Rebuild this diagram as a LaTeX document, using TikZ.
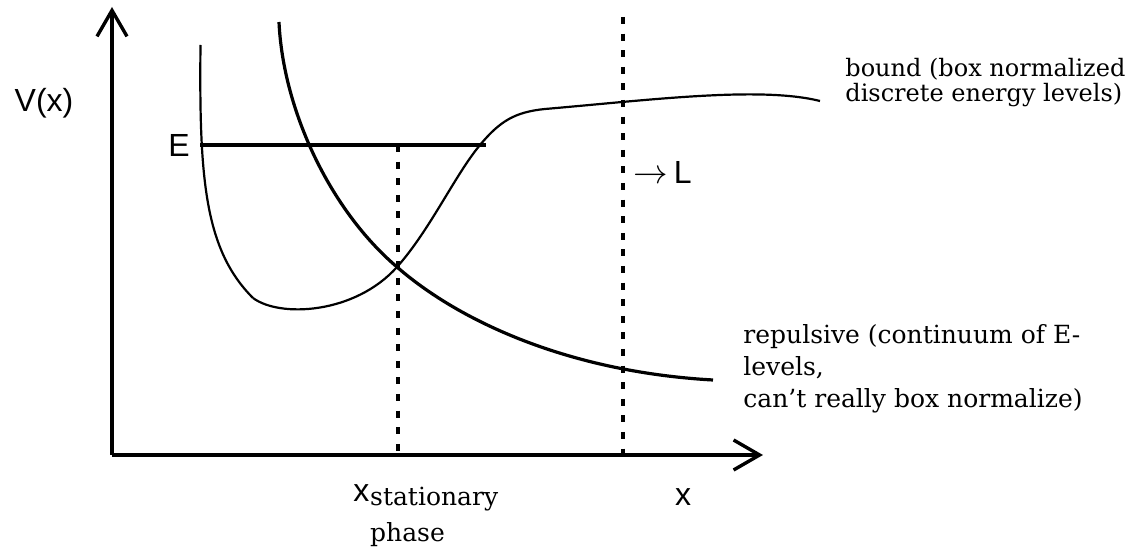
\documentclass[tikz,border=0pt]{standalone}
\usepackage{fontspec}
\setmainfont{DejaVu Serif}
\newfontfamily\sanslabelfont{Liberation Sans}
\usetikzlibrary{arrows.meta,positioning}
\tikzset{
  potaxis/.style={line width=1.7pt, -{Straight Barb[length=13pt,width=15pt,line width=1.7pt]}},
  potrepul/.style={line width=1.6pt},
  potbound/.style={line width=1.1pt},
  potlevel/.style={line width=1.7pt},
  potdash/.style={line width=2pt, dash pattern=on 3.5pt off 4.8pt},
  sanslabel/.style={inner sep=0pt, font=\sanslabelfont\fontsize{16}{19}\selectfont},
  potnote/.style={inner sep=0pt, align=left, font=\rmfamily\fontsize{12.5}{#1}\selectfont},
  potnote/.default=16pt
}

\begin{document}
\begin{tikzpicture}[x=0.5pt, y=-0.5pt]
\useasboundingbox (0,0) rectangle (1132,550);
% axes
\coordinate (origin) at (112,455);
\coordinate (ytip) at (112,7);
\coordinate (xtip) at (763,455);
\draw[potaxis] (origin) -- (ytip);
\draw[potaxis] (origin) -- (xtip);
% dashed markers
\coordinate (statE) at (398,145);
\coordinate (statbase) at (398,455);
\coordinate (boxtop) at (623,17);
\coordinate (boxbase) at (623,455);
\draw[potdash] (statE) -- (statbase);
\draw[potdash] (boxtop) -- (boxbase);
% energy level
\coordinate (Eleft) at (200,145);
\coordinate (Eright) at (486,145);
\draw[potlevel] (Eleft) -- (Eright);
% bound potential
\coordinate (wallcorner) at (253,298);
\coordinate (cross) at (397,267);
\draw[potbound] (200.5,45) .. controls (199,180) and (205,250) .. (wallcorner);
\draw[potbound] (wallcorner) .. controls (280,318) and (355,314) .. (cross)
  .. controls (430,230) and (455,175) .. (480,145)
  .. controls (500,121) and (515,112) .. (545,109)
  .. controls (650,100) and (760,86) .. (820,101);
% repulsive potential
\draw[potrepul] (279,22) .. controls (283,110) and (330,210) .. (cross)
  .. controls (460,322) and (570,372) .. (713,380);
% labels
\node[sanslabel] (Vlab) at (44,103) {V(x)};
\node[sanslabel, left=5pt of Eleft] (Elab) {E};
\node[sanslabel, anchor=west] (Llab) at (633,172) {$\rightarrow$\hspace{3pt}L};
\node[sanslabel] (xlab) at (683,497) {x};
\node[sanslabel, anchor=base west] (xsym) at (353,502) {x};
\node[potnote, anchor=base west] (statlab) at ([yshift=-2pt]xsym.base east) {stationary};
\node[potnote, anchor=base west] (phaselab) at ([yshift=-18pt]statlab.base west) {phase};
\node[potnote, font=\rmfamily\fontsize{12}{12.5}\selectfont, anchor=base west] (boundlab) at (845,102) {bound (box normalized\\discrete energy levels)};
\node[potnote=16pt, anchor=base west] (repullab) at (743,408) {repulsive (continuum of E-\\levels,\\can't really box normalize)};
\end{tikzpicture}
\end{document}
